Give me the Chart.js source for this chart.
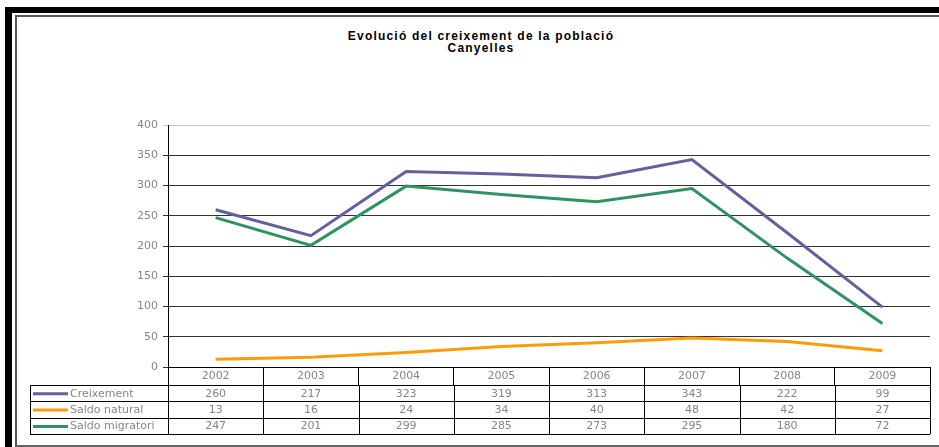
<!DOCTYPE html>
<html>
<head>
<meta charset="utf-8">
<script src="https://cdn.jsdelivr.net/npm/chart.js@4"></script>
<style>
    body { margin: 0; background: #fff; overflow: hidden; }
    .frame-outer { position: absolute; left: 5px; top: 7px; width: 1000px; height: 1000px;
        border-left: 7px solid #000; border-top: 6px solid #000; }
    .frame-inner { position: absolute; left: 15px; top: 15px; width: 1000px; height: 428px;
        border-left: 2px solid #555; border-top: 2px solid #555; border-bottom: 2px solid #666; }
    .title { position: absolute; left: 0; width: 962px; top: 30px; text-align: center;
        font: bold 12px "Liberation Sans", Arial, sans-serif; line-height: 12px; letter-spacing: 1.2px; color: #000; }
    #wrap { position: absolute; left: 0; top: 0; width: 939px; height: 447px; }
</style>
</head>
<body>
<div class="frame-outer"></div>
<div class="frame-inner"></div>
<div class="title">Evolució del creixement de la població<br>Canyelles</div>
<div id="wrap"><canvas id="grafic"></canvas></div>
<script>
var anys = ['2002', '2003', '2004', '2005', '2006', '2007', '2008', '2009'];
var creixement = [260, 217, 323, 319, 313, 343, 222, 99];
var saldoNatural = [13, 16, 24, 34, 40, 48, 42, 27];
var saldoMigratori = [247, 201, 299, 285, 273, 295, 180, 72];
var tickValors = [0, 50, 100, 150, 200, 250, 300, 350, 400];

var fontTaula = '11px "DejaVu Sans", Verdana, sans-serif';
var grisText = '#868686';

// taula de dades sota el gràfic, amb les columnes de l'eix x
var taulaPlugin = {
    id: 'taula',
    afterDraw: function (chart) {
        var ctx = chart.ctx;
        var x = chart.scales.x;
        var top = x.top + 18;
        var rowH = 16.4;
        var left = 30;
        var n = anys.length;
        var colW = (x.right - x.left) / n;
        ctx.save();
        ctx.strokeStyle = '#000';
        ctx.lineWidth = 1;
        // línies horitzontals
        for (var r = 0; r <= 3; r++) {
            var yy = Math.round(top + r * rowH) + 0.5;
            ctx.beginPath();
            ctx.moveTo(left, yy);
            ctx.lineTo(x.right, yy);
            ctx.stroke();
        }
        // línies verticals
        var bottom = top + 3 * rowH;
        var xs = [left];
        for (var i = 0; i <= n; i++) xs.push(x.left + i * colW);
        xs.forEach(function (xx) {
            xx = Math.round(xx) + 0.5;
            ctx.beginPath();
            ctx.moveTo(xx, top);
            ctx.lineTo(xx, bottom);
            ctx.stroke();
        });
        // files
        chart.data.datasets.forEach(function (ds, r) {
            var cy = top + r * rowH + rowH / 2 + 0.5;
            ctx.strokeStyle = ds.borderColor;
            ctx.lineWidth = 3;
            ctx.beginPath();
            ctx.moveTo(33, cy);
            ctx.lineTo(68, cy);
            ctx.stroke();
            ctx.fillStyle = grisText;
            ctx.font = fontTaula;
            ctx.textBaseline = 'middle';
            ctx.textAlign = 'left';
            ctx.fillText(ds.label, 70, cy);
            ctx.textAlign = 'center';
            ds.data.forEach(function (v, i) {
                ctx.fillText(String(v), x.getPixelForValue(i), cy);
            });
        });
        // eix y continua fins al final de la taula
        ctx.strokeStyle = '#000';
        ctx.lineWidth = 1;
        ctx.beginPath();
        ctx.moveTo(Math.round(x.left) + 0.5, x.top);
        ctx.lineTo(Math.round(x.left) + 0.5, bottom);
        ctx.stroke();
        ctx.restore();
    }
};

var ctx = document.getElementById('grafic').getContext('2d');
var chart = new Chart(ctx, {
    type: 'line',
    data: {
        labels: anys,
        datasets: [
            { label: 'Creixement', data: creixement, borderColor: '#64609e' },
            { label: 'Saldo natural', data: saldoNatural, borderColor: '#ff9a0a' },
            { label: 'Saldo migratori', data: saldoMigratori, borderColor: '#2f9261' }
        ]
    },
    options: {
        responsive: true,
        maintainAspectRatio: false,
        animation: false,
        devicePixelRatio: 1,
        layout: { padding: { left: 0, right: 9, top: 125, bottom: 13 } },
        elements: {
            line: { borderWidth: 3, tension: 0, fill: false },
            point: { radius: 0, hoverRadius: 0 }
        },
        plugins: {
            legend: { display: false },
            title: { display: false },
            tooltip: { enabled: false }
        },
        scales: {
            x: {
                offset: true,
                grid: { offset: true, drawOnChartArea: false, tickLength: 18, color: '#000' },
                border: { color: '#000' },
                ticks: { color: grisText, font: { family: '"DejaVu Sans", Verdana, sans-serif', size: 11 },
                    padding: -15, maxRotation: 0 },
                afterFit: function (scale) { scale.height = 67; }
            },
            y: {
                min: 0,
                max: 400,
                afterBuildTicks: function (scale) {
                    scale.ticks = tickValors.map(function (v) { return { value: v }; });
                },
                grid: {
                    tickLength: 5,
                    color: function (c) { return c.tick && c.tick.value === 400 ? '#c4c4c4' : '#333'; }
                },
                border: { color: '#000' },
                ticks: { color: grisText, font: { family: '"DejaVu Sans", Verdana, sans-serif', size: 11 },
                    padding: 5 },
                afterFit: function (scale) { scale.width = 168; }
            }
        }
    },
    plugins: [taulaPlugin]
});
</script>
</body>
</html>
